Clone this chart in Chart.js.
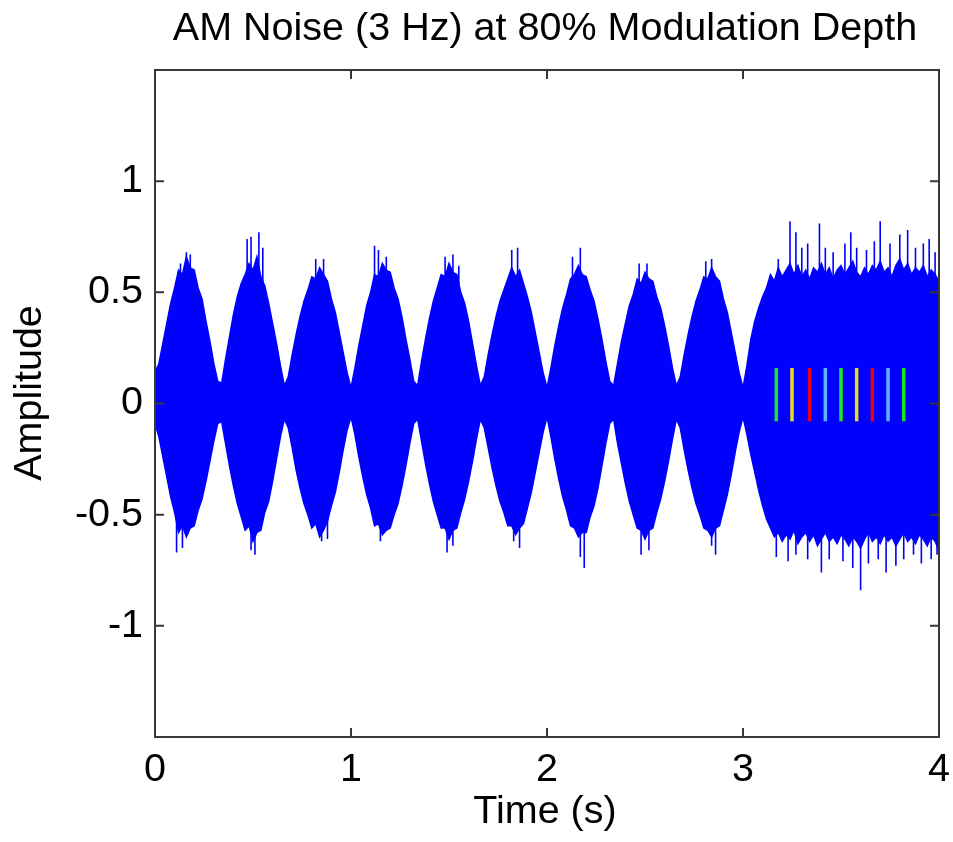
<!DOCTYPE html>
<html lang="en">
<head>
<meta charset="utf-8">
<title>AM Noise (3 Hz) at 80% Modulation Depth</title>
<script src="https://cdn.jsdelivr.net/npm/chart.js"></script>
<style>
  html,body{margin:0;padding:0;background:#fff;}
  #wrap{width:953px;height:842px;}
</style>
</head>
<body>
<div id="wrap"><canvas id="amChart" width="953" height="842"></canvas></div>

<script>
/* ── 1. Data ──────────────────────────────────────────────────────── */
const TITLE   = 'AM Noise (3 Hz) at 80% Modulation Depth';
const X_TITLE = 'Time (s)';
const Y_TITLE = 'Amplitude';
const X_TICKS = [0, 1, 2, 3, 4];
const Y_TICKS = [-1, -0.5, 0, 0.5, 1];

// sample times (s) of the envelope trace
const TIME = [
  0.00,0.02,0.04,0.06,0.08,0.10,0.12,0.14,0.16,0.18,
  0.20,0.22,0.24,0.26,0.28,0.30,0.32,0.34,0.36,0.38,
  0.40,0.42,0.44,0.46,0.48,0.50,0.52,0.54,0.56,0.58,
  0.60,0.62,0.64,0.66,0.68,0.70,0.72,0.74,0.76,0.78,
  0.80,0.82,0.84,0.86,0.88,0.90,0.92,0.94,0.96,0.98,
  1.00,1.02,1.04,1.06,1.08,1.10,1.12,1.14,1.16,1.18,
  1.20,1.22,1.24,1.26,1.28,1.30,1.32,1.34,1.36,1.38,
  1.40,1.42,1.44,1.46,1.48,1.50,1.52,1.54,1.56,1.58,
  1.60,1.62,1.64,1.66,1.68,1.70,1.72,1.74,1.76,1.78,
  1.80,1.82,1.84,1.86,1.88,1.90,1.92,1.94,1.96,1.98,
  2.00,2.02,2.04,2.06,2.08,2.10,2.12,2.14,2.16,2.18,
  2.20,2.22,2.24,2.26,2.28,2.30,2.32,2.34,2.36,2.38,
  2.40,2.42,2.44,2.46,2.48,2.50,2.52,2.54,2.56,2.58,
  2.60,2.62,2.64,2.66,2.68,2.70,2.72,2.74,2.76,2.78,
  2.80,2.82,2.84,2.86,2.88,2.90,2.92,2.94,2.96,2.98,
  3.00,3.02,3.04,3.06,3.08,3.10,3.12,3.14,3.16,3.18,
  3.20,3.22,3.24,3.26,3.28,3.30,3.32,3.34,3.36,3.38,
  3.40,3.42,3.44,3.46,3.48,3.50,3.52,3.54,3.56,3.58,
  3.60,3.62,3.64,3.66,3.68,3.70,3.72,3.74,3.76,3.78,
  3.80,3.82,3.84,3.86,3.88,3.90,3.92,3.94,3.96,3.98,
  4.00
];

// upper edge of the noise band
const UPPER = [
  0.14,0.18,0.27,0.36,0.45,0.52,0.60,0.58,0.66,0.61,
  0.60,0.52,0.47,0.37,0.28,0.18,0.10,0.09,0.20,0.30,
  0.40,0.48,0.54,0.58,0.63,0.60,0.66,0.57,0.53,0.45,
  0.36,0.27,0.17,0.08,0.12,0.22,0.31,0.39,0.46,0.51,
  0.57,0.56,0.61,0.58,0.55,0.47,0.41,0.32,0.23,0.14,
  0.07,0.16,0.26,0.35,0.44,0.50,0.58,0.57,0.63,0.60,
  0.59,0.52,0.47,0.39,0.29,0.20,0.10,0.08,0.19,0.29,
  0.38,0.46,0.52,0.58,0.57,0.63,0.59,0.58,0.50,0.45,
  0.37,0.27,0.17,0.08,0.12,0.22,0.31,0.39,0.46,0.51,
  0.56,0.61,0.57,0.60,0.54,0.48,0.41,0.32,0.23,0.14,
  0.07,0.16,0.26,0.35,0.43,0.49,0.56,0.58,0.62,0.58,
  0.57,0.51,0.46,0.38,0.29,0.19,0.10,0.08,0.18,0.28,
  0.36,0.44,0.49,0.56,0.54,0.59,0.56,0.55,0.48,0.43,
  0.35,0.26,0.16,0.08,0.12,0.22,0.31,0.39,0.46,0.51,
  0.57,0.56,0.61,0.57,0.55,0.47,0.41,0.32,0.23,0.14,
  0.07,0.17,0.29,0.37,0.43,0.48,0.52,0.58,0.55,0.61,
  0.57,0.60,0.63,0.58,0.62,0.57,0.60,0.56,0.61,0.59,
  0.63,0.58,0.61,0.56,0.60,0.62,0.58,0.61,0.64,0.59,
  0.57,0.61,0.58,0.62,0.60,0.64,0.59,0.61,0.57,0.62,
  0.65,0.60,0.63,0.58,0.61,0.59,0.62,0.57,0.60,0.58,
  0.55
];

// lower edge of the noise band
const LOWER = [
  -0.09,-0.15,-0.24,-0.33,-0.42,-0.49,-0.58,-0.55,-0.60,-0.56,
  -0.55,-0.48,-0.43,-0.35,-0.26,-0.17,-0.09,-0.08,-0.18,-0.28,
  -0.37,-0.45,-0.51,-0.57,-0.55,-0.62,-0.58,-0.57,-0.49,-0.44,
  -0.35,-0.25,-0.15,-0.07,-0.11,-0.20,-0.30,-0.38,-0.45,-0.50,
  -0.56,-0.54,-0.60,-0.57,-0.53,-0.46,-0.40,-0.31,-0.21,-0.12,
  -0.06,-0.14,-0.24,-0.33,-0.41,-0.47,-0.55,-0.54,-0.59,-0.57,
  -0.56,-0.50,-0.45,-0.37,-0.28,-0.18,-0.09,-0.07,-0.17,-0.27,
  -0.36,-0.44,-0.50,-0.56,-0.56,-0.61,-0.57,-0.56,-0.49,-0.43,
  -0.35,-0.26,-0.16,-0.07,-0.11,-0.20,-0.29,-0.37,-0.44,-0.49,
  -0.55,-0.55,-0.59,-0.56,-0.54,-0.47,-0.40,-0.31,-0.22,-0.13,
  -0.06,-0.15,-0.25,-0.34,-0.42,-0.48,-0.55,-0.56,-0.60,-0.58,
  -0.58,-0.51,-0.46,-0.38,-0.28,-0.18,-0.09,-0.07,-0.18,-0.27,
  -0.36,-0.44,-0.50,-0.56,-0.57,-0.61,-0.57,-0.56,-0.49,-0.43,
  -0.35,-0.26,-0.16,-0.07,-0.11,-0.21,-0.30,-0.38,-0.45,-0.50,
  -0.56,-0.57,-0.60,-0.56,-0.55,-0.48,-0.41,-0.32,-0.22,-0.13,
  -0.06,-0.14,-0.23,-0.31,-0.39,-0.46,-0.52,-0.56,-0.60,-0.58,
  -0.62,-0.59,-0.61,-0.57,-0.63,-0.60,-0.58,-0.62,-0.59,-0.64,
  -0.61,-0.58,-0.62,-0.60,-0.63,-0.59,-0.61,-0.64,-0.60,-0.62,
  -0.65,-0.61,-0.58,-0.62,-0.60,-0.63,-0.59,-0.62,-0.60,-0.64,
  -0.61,-0.58,-0.62,-0.60,-0.63,-0.59,-0.61,-0.64,-0.60,-0.62,
  -0.66
];

// isolated tall peaks sticking out of the band
const SPIKE_T = [
  0.13,0.16,0.18,0.47,0.49,0.53,0.55,0.82,0.86,1.12,1.14,1.18,1.48,1.52,1.55,
  1.82,1.85,2.13,2.17,2.47,2.51,2.81,2.84,
  3.18,3.24,3.27,3.30,3.33,3.39,3.42,3.46,3.52,3.55,3.58,3.63,3.67,3.70,3.75,
  3.80,3.84,3.88,3.92,3.95,3.98,
  0.11,0.14,0.49,0.51,0.85,0.88,1.15,1.49,1.52,1.83,1.86,2.17,2.19,2.48,2.52,
  2.84,2.86,
  3.17,3.23,3.27,3.33,3.40,3.44,3.51,3.56,3.60,3.64,3.69,3.73,3.78,3.82,3.87,
  3.91,3.96,3.99
];
const SPIKE_Y = [
  0.63,0.68,0.67,0.74,0.75,0.77,0.70,0.65,0.65,0.71,0.69,0.66,0.66,0.67,0.62,
  0.69,0.70,0.66,0.70,0.63,0.63,0.64,0.65,
  0.65,0.82,0.77,0.70,0.72,0.81,0.70,0.68,0.72,0.77,0.70,0.69,0.73,0.82,0.72,
  0.76,0.78,0.70,0.72,0.74,0.68,
  -0.67,-0.65,-0.66,-0.68,-0.62,-0.61,-0.62,-0.67,-0.64,-0.62,-0.65,-0.69,-0.74,-0.68,-0.66,
  -0.64,-0.68,
  -0.69,-0.71,-0.68,-0.70,-0.76,-0.70,-0.71,-0.74,-0.84,-0.72,-0.70,-0.76,-0.73,-0.70,-0.68,
  -0.72,-0.70,-0.68
];

// coloured marker bars on the unmodulated part
const MARK_T      = [3.17, 3.25, 3.34, 3.42, 3.50, 3.58, 3.66, 3.74, 3.82];
const MARK_COLOR  = ['#1ee61e','#ecdc1c','#e8001c','#5cb2ff','#1ee61e','#ecdc1c','#e8001c','#5cb2ff','#1ee61e'];
const MARK_TOP    = 0.16;
const MARK_BOTTOM = -0.08;

/* ── 2. Styling ───────────────────────────────────────────────────── */
const BLUE = '#0000ff';
const FONT_FAMILY = '"Liberation Sans", Arial, Helvetica, sans-serif';
const FONT_SIZE = 39.5;
const TICK_LEN = 9;

/* ── 3. Build datasets ────────────────────────────────────────────── */
const upperPts = TIME.map((t, i) => ({x: t, y: UPPER[i]}));
const lowerPts = TIME.map((t, i) => ({x: t, y: LOWER[i]}));

const spikePts = [];
SPIKE_T.forEach((t, i) => {
  spikePts.push({x: t, y: 0}, {x: t, y: SPIKE_Y[i]}, {x: t, y: null});
});

const markSets = MARK_T.map((t, i) => ({
  type: 'line',
  data: [{x: t, y: MARK_BOTTOM}, {x: t, y: MARK_TOP}],
  borderColor: MARK_COLOR[i],
  borderWidth: 3.5,
  pointRadius: 0,
  fill: false,
  order: 0
}));

const datasets = [
  ...markSets,
  {
    label: 'spikes', data: spikePts, borderColor: BLUE, borderWidth: 1.6,
    pointRadius: 0, fill: false, spanGaps: false, order: 1
  },
  {
    label: 'upper', data: upperPts, borderColor: BLUE, borderWidth: 1.5,
    backgroundColor: BLUE, pointRadius: 0, fill: '+1', order: 2
  },
  {
    label: 'lower', data: lowerPts, borderColor: BLUE, borderWidth: 1.5,
    backgroundColor: BLUE, pointRadius: 0, fill: false, order: 3
  }
];

/* ── 4. Frame, inward ticks and titles (MATLAB look) ──────────────── */
const framePlugin = {
  id: 'frame',
  afterDraw(chart) {
    const {ctx, chartArea: a, scales: {x, y}} = chart;
    ctx.save();
    ctx.strokeStyle = '#383838';
    ctx.lineWidth = 2;
    ctx.strokeRect(a.left, a.top, a.right - a.left, a.bottom - a.top);
    ctx.beginPath();
    X_TICKS.forEach(v => {
      const px = x.getPixelForValue(v);
      ctx.moveTo(px, a.bottom); ctx.lineTo(px, a.bottom - TICK_LEN);
      ctx.moveTo(px, a.top);    ctx.lineTo(px, a.top + TICK_LEN);
    });
    Y_TICKS.forEach(v => {
      const py = y.getPixelForValue(v);
      ctx.moveTo(a.left, py);  ctx.lineTo(a.left + TICK_LEN, py);
      ctx.moveTo(a.right, py); ctx.lineTo(a.right - TICK_LEN, py);
    });
    ctx.stroke();

    ctx.fillStyle = '#000';
    ctx.font = FONT_SIZE + 'px ' + FONT_FAMILY;
    ctx.textAlign = 'center';
    ctx.textBaseline = 'alphabetic';
    const cx = (a.left + a.right) / 2;
    ctx.fillText(TITLE, cx - 2, 40);
    ctx.fillText(X_TITLE, cx - 2, 823);
    ctx.translate(41, 393);
    ctx.rotate(-Math.PI / 2);
    ctx.fillText(Y_TITLE, 0, 0);
    ctx.restore();
  }
};

/* ── 5. Chart ─────────────────────────────────────────────────────── */
new Chart(document.getElementById('amChart'), {
  type: 'line',
  data: {datasets},
  options: {
    responsive: false,
    animation: false,
    layout: {padding: {top: 70, right: 14, left: 0, bottom: 0}},
    plugins: {legend: {display: false}, tooltip: {enabled: false}, title: {display: false}},
    elements: {line: {tension: 0}},
    scales: {
      x: {
        type: 'linear', min: 0, max: 4,
        afterBuildTicks: s => { s.ticks = X_TICKS.map(v => ({value: v})); },
        afterFit: s => { s.height = 105; s.paddingLeft = 0; s.paddingRight = 0; },
        grid: {display: false, drawTicks: false},
        border: {display: false},
        ticks: {
          color: '#000', padding: 9, maxRotation: 0,
          font: {family: FONT_FAMILY, size: FONT_SIZE},
          callback: v => String(v)
        }
      },
      y: {
        type: 'linear', min: -1.5, max: 1.5,
        afterBuildTicks: s => { s.ticks = Y_TICKS.map(v => ({value: v})); },
        afterFit: s => { s.width = 155; s.paddingTop = 0; s.paddingBottom = 0; },
        grid: {display: false, drawTicks: false},
        border: {display: false},
        ticks: {
          color: '#000', padding: 12,
          font: {family: FONT_FAMILY, size: FONT_SIZE},
          callback: v => String(v)
        }
      }
    }
  },
  plugins: [framePlugin]
});
</script>
</body>
</html>
